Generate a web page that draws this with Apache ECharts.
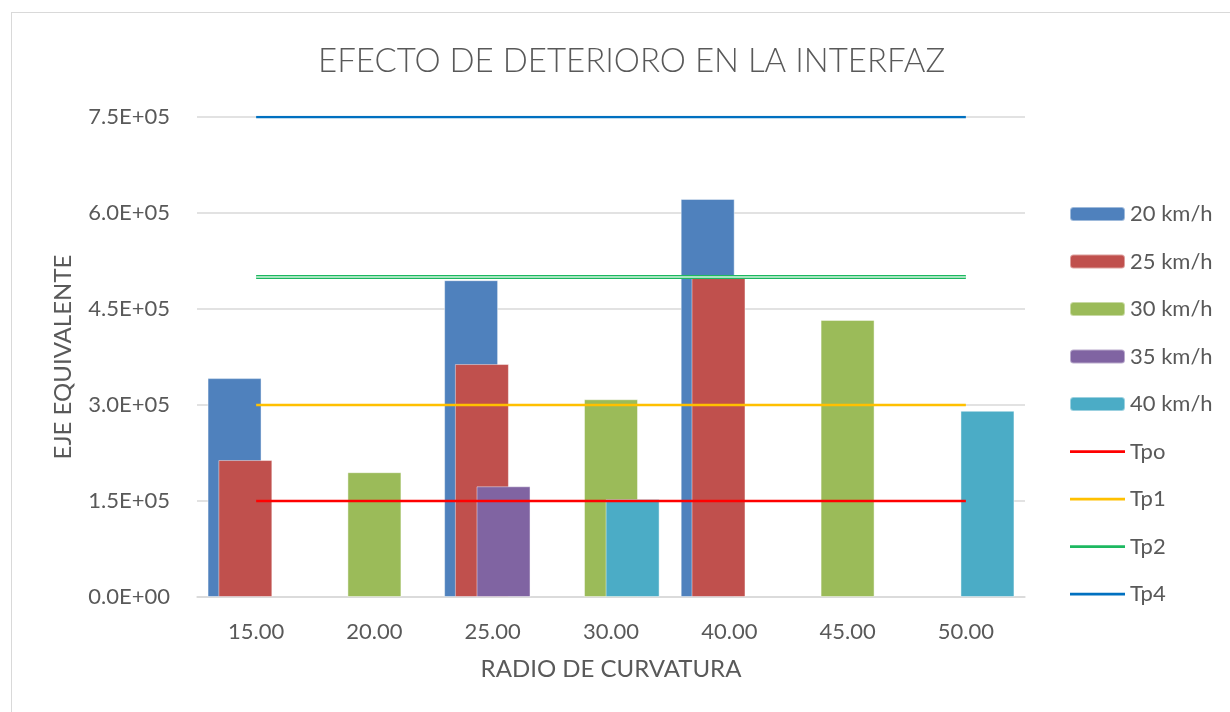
<!DOCTYPE html>
<html>
<head>
<meta charset="utf-8">
<script src="https://cdn.jsdelivr.net/npm/echarts@6/dist/echarts.min.js"></script>
<style>
  html, body { margin: 0; padding: 0; background: #fff; }
  #frame { position: absolute; left: 11px; top: 12px; width: 1240px; height: 720px; border: 1px solid #d9d9d9; box-sizing: border-box; }
  #main { position: absolute; left: 0; top: 0; width: 1230px; height: 712px; }
</style>
</head>
<body>
<div id="frame"></div>
<div id="main"></div>
<script>
// radio de curvatura
const categories = ['15.00', '20.00', '25.00', '30.00', '40.00', '45.00', '50.00'];

// eje equivalente por velocidad (null = sin barra)
const v20 = [342000, null, 495000, null, 622000, null, null];
const v25 = [214000, null, 364000, null, 503000, null, null];
const v30 = [null, 195000, null, 309000, null, 433000, null];
const v35 = [null, null, 173000, null, null, null, null];
const v40 = [null, null, null, 153000, null, null, 291000];

// umbrales
const tpo = [150000, 150000, 150000, 150000, 150000, 150000, 150000];
const tp1 = [300000, 300000, 300000, 300000, 300000, 300000, 300000];
const tp2 = [500000, 500000, 500000, 500000, 500000, 500000, 500000];
const tp4 = [750000, 750000, 750000, 750000, 750000, 750000, 750000];

const FONT = 'Lato, "Open Sans", sans-serif';
const GREY = '#595959';
const LINE_ICON = 'path://M0,0 L60,0 L60,3 L0,3 Z';

const fmtSci = (v) => {
  if (v === 0) return '0.0E+00';
  const exp = Math.floor(Math.log10(Math.abs(v)));
  const mant = (v / Math.pow(10, exp)).toFixed(1);
  const e = String(Math.abs(exp)).padStart(2, '0');
  return mant + 'E' + (exp < 0 ? '-' : '+') + e;
};

const bar = (name, data, color) => ({
  name, type: 'bar', data,
  barWidth: 54, barGap: '-80%',
  itemStyle: { color, borderColor: 'rgba(255,255,255,0.45)', borderWidth: 1 },
  emphasis: { disabled: true }
});

const line = (name, data, color, width) => ({
  name, type: 'line', data,
  symbol: 'none',
  lineStyle: { color, width },
  itemStyle: { color },
  emphasis: { disabled: true },
  z: 5
});

const chart = echarts.init(document.getElementById('main'));
chart.setOption({
  animation: false,
  title: {
    text: 'EFECTO DE DETERIORO EN LA INTERFAZ',
    left: 313,
    top: 40,
    textStyle: { fontFamily: FONT, fontSize: 33, fontWeight: 300, color: GREY }
  },
  grid: { left: 197, right: 205, top: 117, bottom: 115 },
  legend: {
    orient: 'vertical',
    left: 1064,
    top: 198,
    itemWidth: 55,
    itemHeight: 14,
    itemGap: 25.5,
    textStyle: { fontFamily: FONT, fontSize: 22, color: GREY, lineHeight: 22 },
    data: [
      '20 km/h', '25 km/h', '30 km/h', '35 km/h', '40 km/h',
      { name: 'Tpo', icon: LINE_ICON },
      { name: 'Tp1', icon: LINE_ICON },
      { name: 'Tp2', icon: LINE_ICON },
      { name: 'Tp4', icon: LINE_ICON }
    ]
  },
  xAxis: {
    type: 'category',
    data: categories,
    name: 'RADIO DE CURVATURA',
    nameLocation: 'middle',
    nameGap: 60,
    nameTextStyle: { fontFamily: FONT, fontSize: 24, color: GREY },
    axisLine: { lineStyle: { color: '#d9d9d9', width: 1.5 } },
    axisTick: { show: false },
    axisLabel: { fontFamily: FONT, fontSize: 22, color: GREY, margin: 24 }
  },
  yAxis: {
    type: 'value',
    min: 0, max: 750000, interval: 150000,
    name: 'EJE EQUIVALENTE',
    nameLocation: 'middle',
    nameGap: 122,
    nameTextStyle: { fontFamily: FONT, fontSize: 24, color: GREY },
    axisLine: { show: false },
    axisTick: { show: false },
    splitLine: { lineStyle: { color: '#d9d9d9', width: 1.5 } },
    axisLabel: { fontFamily: FONT, fontSize: 22, color: GREY, margin: 27, formatter: fmtSci }
  },
  series: [
    bar('20 km/h', v20, '#4f81bd'),
    bar('25 km/h', v25, '#c0504d'),
    bar('30 km/h', v30, '#9bbb59'),
    bar('35 km/h', v35, '#8064a2'),
    bar('40 km/h', v40, '#4bacc6'),
    line('Tpo', tpo, '#ff0000', 2.5),
    line('Tp1', tp1, '#ffc000', 2.5),
    line('Tp2', tp2, '#1db860', 4),
    // inner light stroke that makes Tp2 look like a double line
    Object.assign(line('Tp2 inner', tp2, '#d4f4df', 1.5), { z: 6 }),
    line('Tp4', tp4, '#0070c0', 2.5)
  ]
});
</script>
</body>
</html>
